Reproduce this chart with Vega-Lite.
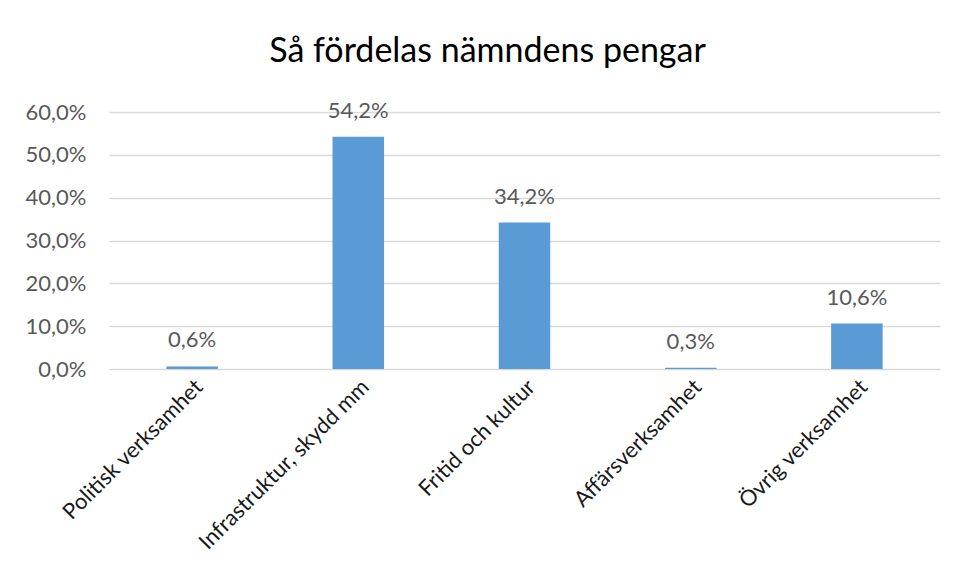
{
  "$schema": "https://vega.github.io/schema/vega-lite/v6.json",
  "width": 831,
  "height": 257,
  "autosize": {"type": "none"},
  "padding": {"left": 109, "top": 112, "right": 17, "bottom": 210},
  "background": "white",
  "title": {
    "text": "Så fördelas nämndens pengar",
    "font": "Lato",
    "fontSize": 34,
    "fontWeight": "normal",
    "color": "#000000",
    "anchor": "middle",
    "frame": "group",
    "baseline": "alphabetic",
    "offset": 4,
    "dx": -37
  },
  "config": {
    "locale": {"number": {"decimal": ",", "thousands": " ", "grouping": [3], "currency": ["", " kr"]}},
    "view": {"stroke": null},
    "font": "Lato"
  },
  "data": {
    "values": [
      {"kategori": "Politisk verksamhet", "andel": 0.006},
      {"kategori": "Infrastruktur, skydd mm", "andel": 0.542},
      {"kategori": "Fritid och kultur", "andel": 0.342},
      {"kategori": "Affärsverksamhet", "andel": 0.003},
      {"kategori": "Övrig verksamhet", "andel": 0.106}
    ]
  },
  "encoding": {
    "x": {
      "field": "kategori",
      "type": "nominal",
      "sort": null,
      "scale": {"paddingInner": 0.69, "paddingOuter": 0.345},
      "axis": {
        "title": null,
        "labelAngle": -45,
        "labelAlign": "right",
        "labelBaseline": "top",
        "labelFont": "Lato",
        "labelFontSize": 22,
        "labelColor": "#1a1a1a",
        "labelPadding": 7,
        "ticks": false,
        "domain": false,
        "labelLimit": 400
      }
    },
    "y": {
      "field": "andel",
      "type": "quantitative",
      "scale": {"domain": [0, 0.6], "nice": false},
      "axis": {
        "title": null,
        "values": [0, 0.1, 0.2, 0.3, 0.4, 0.5, 0.6],
        "format": ".1%",
        "labelFont": "Lato",
        "labelFontSize": 22,
        "labelColor": "#595959",
        "labelPadding": 23,
        "ticks": false,
        "domain": false,
        "gridColor": "#d9d9d9",
        "gridWidth": 1.3
      }
    }
  },
  "layer": [
    {"mark": {"type": "bar", "color": "#5b9bd5"}},
    {
      "mark": {"type": "text", "baseline": "alphabetic", "dy": -19, "fontSize": 22, "color": "#595959", "font": "Lato"},
      "encoding": {"text": {"field": "andel", "type": "quantitative", "format": ".1%"}}
    }
  ]
}
